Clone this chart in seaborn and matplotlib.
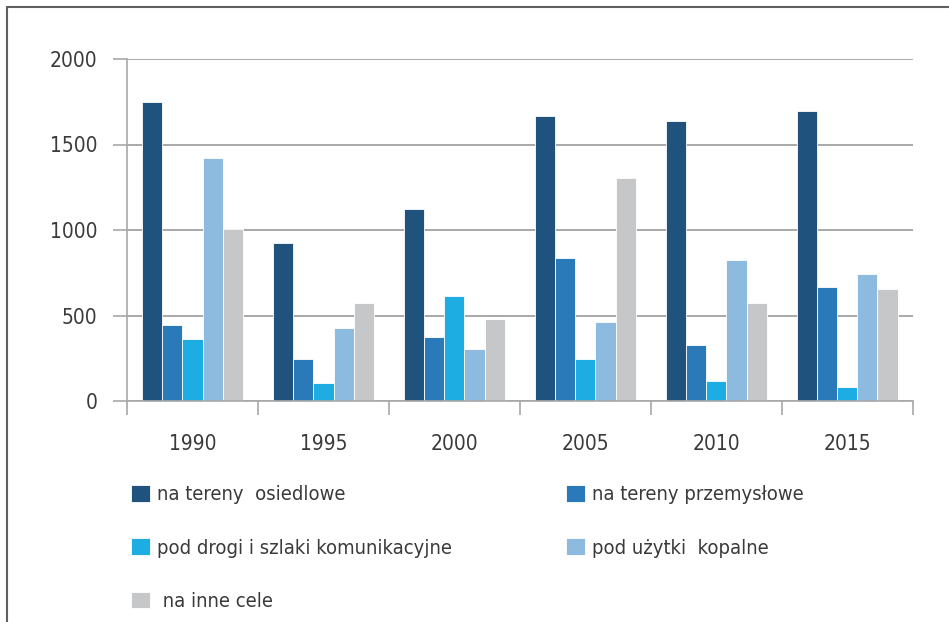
import pandas as pd
import matplotlib
matplotlib.use("Agg")
import matplotlib.pyplot as plt
import seaborn as sns
from matplotlib import font_manager
from matplotlib.lines import Line2D

# data
lata = ["1990", "1995", "2000", "2005", "2010", "2015"]
kategorie = [
    "na tereny  osiedlowe",
    "na tereny przemysłowe",
    "pod drogi i szlaki komunikacyjne",
    "pod użytki  kopalne",
    " na inne cele",
]
osiedlowe = [1750, 922, 1121, 1665, 1635, 1698]
przemyslowe = [444, 248, 372, 836, 326, 667]
drogi = [361, 105, 614, 248, 117, 82]
kopalne = [1419, 427, 302, 462, 823, 741]
inne = [1008, 573, 478, 1302, 575, 657]
kolory = ["#1f527c", "#2a79b9", "#1dade2", "#8dbbe0", "#c6c7c9"]
y_ticks = [0, 500, 1000, 1500, 2000]

serie = [osiedlowe, przemyslowe, drogi, kopalne, inne]
rows = []
for kat, vals in zip(kategorie, serie):
    for rok, v in zip(lata, vals):
        rows.append({"rok": rok, "kategoria": kat, "ha": v})
df = pd.DataFrame(rows)

sns.set_theme(style="white")

# narrow font if one is installed
names = {f.name for f in font_manager.fontManager.ttflist}
if "Liberation Sans Narrow" in names:
    fam = "Liberation Sans Narrow"
    fs_tick, fs_leg = 18, 17
elif any(f.name == "DejaVu Sans" and f.stretch == "condensed" for f in font_manager.fontManager.ttflist):
    fam = "DejaVu Sans"
    plt.rcParams["font.stretch"] = "condensed"
    fs_tick, fs_leg = 15, 14.5
else:
    fam = "Roboto"
    fs_tick, fs_leg = 15, 14.5
plt.rcParams["font.family"] = [fam, "DejaVu Sans"]

fig = plt.figure(figsize=(9.49, 6.22), dpi=100)
ax = fig.add_axes([127 / 949, 1 - 401 / 622, (912.7 - 127) / 949, 342 / 622])

sns.barplot(data=df, x="rok", y="ha", hue="kategoria", palette=kolory, saturation=1,
            width=0.77, edgecolor="white", linewidth=0.6, ax=ax, legend=True)

ax.set_ylim(0, 2000)
ax.set_xlim(-0.5, 5.5)
ax.set_yticks(y_ticks)
ax.set_xlabel("")
ax.set_ylabel("")
ax.set_axisbelow(True)
ax.yaxis.grid(True, color="#a8a8a8", linewidth=1.4)

for s in ["top", "right"]:
    ax.spines[s].set_visible(False)
for s in ["left", "bottom"]:
    ax.spines[s].set_color("#a8a8a8")
    ax.spines[s].set_linewidth(1.2)

ax.set_xticks([i - 0.5 for i in range(7)], minor=True)
ax.tick_params(axis="x", which="minor", bottom=True, length=10, width=1.2, color="#a8a8a8",
               direction="out")
ax.tick_params(axis="x", which="major", bottom=True, length=0, pad=24, labelsize=fs_tick,
               labelcolor="#3a3a3a")
ax.tick_params(axis="y", which="major", length=10, width=1.2, color="#a8a8a8", pad=11.5,
               labelsize=fs_tick, labelcolor="#3a3a3a", left=True)

handles, labels = ax.get_legend_handles_labels()
ax.get_legend().remove()

leg_kw = dict(frameon=False, fontsize=fs_leg, handlelength=0.92, handleheight=0.92,
              handletextpad=0.35, labelspacing=1.68, borderpad=0, borderaxespad=0,
              loc="upper left", labelcolor="#3a3a3a")
fig.legend([handles[0], handles[2], handles[4]], [labels[0], labels[2], labels[4]],
           bbox_to_anchor=(131 / 949, 1 - 485 / 622), **leg_kw)
fig.legend([handles[1], handles[3]], [labels[1], labels[3]],
           bbox_to_anchor=(566 / 949, 1 - 485 / 622), **leg_kw)

# outer frame of the chart box
fig.add_artist(Line2D([7 / 949, 7 / 949], [0, 1 - 7 / 622], color="#606060", linewidth=1.5))
fig.add_artist(Line2D([7 / 949, 1], [1 - 7 / 622, 1 - 7 / 622], color="#606060", linewidth=1.5))

fig.savefig("out.png", dpi=100)
